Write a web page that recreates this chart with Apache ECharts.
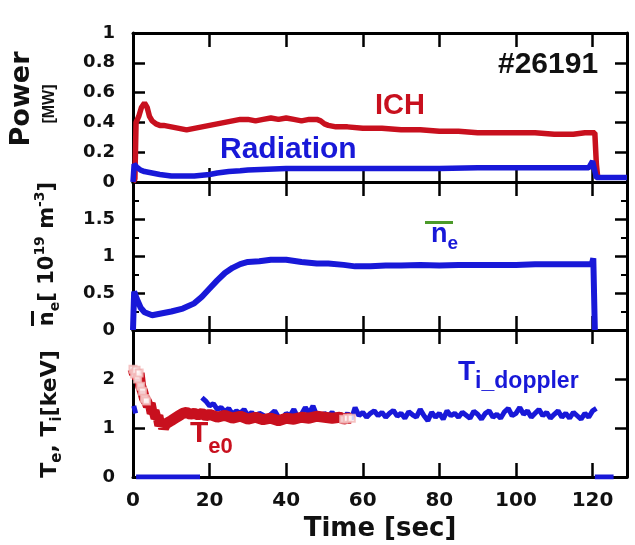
<!DOCTYPE html>
<html><head><meta charset="utf-8">
<script src="https://cdn.jsdelivr.net/npm/echarts@6/dist/echarts.min.js"></script>
<style>html,body{margin:0;padding:0;background:#fff}#c{width:635px;height:545px}</style>
</head><body><div id="c"></div>
<script>
// ---------- data ----------
const xTicks = [0, 20, 40, 60, 80, 100, 120];

const ichTime  = [0, 0.5, 0.8, 1.5, 2.2, 3.0, 3.7, 4.3, 5, 6, 7, 8, 10, 12, 14, 16, 18, 20, 22, 24, 26, 28, 30, 32, 34, 36, 38, 40, 42, 44, 46, 48, 49, 50, 51, 53, 56, 60, 65, 70, 75, 80, 85, 90, 95, 100, 105, 110, 115, 118, 120, 120.6, 121, 121.4];
const ichPower = [0, 0.02, 0.40, 0.44, 0.50, 0.53, 0.50, 0.44, 0.41, 0.39, 0.38, 0.38, 0.37, 0.36, 0.35, 0.36, 0.37, 0.38, 0.39, 0.40, 0.41, 0.42, 0.42, 0.41, 0.42, 0.43, 0.42, 0.43, 0.42, 0.41, 0.42, 0.42, 0.41, 0.39, 0.38, 0.37, 0.37, 0.36, 0.36, 0.35, 0.35, 0.34, 0.34, 0.33, 0.33, 0.33, 0.33, 0.32, 0.32, 0.33, 0.33, 0.33, 0.12, 0.02];

const radTime  = [0, 0.3, 0.6, 1, 2, 3, 5, 7, 10, 13, 16, 18, 20, 22, 25, 28, 30, 35, 40, 45, 50, 60, 70, 80, 90, 100, 110, 119, 120, 120.4, 121, 121.6, 125, 129];
const radPower = [0, 0.12, 0.11, 0.10, 0.08, 0.07, 0.06, 0.05, 0.04, 0.04, 0.04, 0.045, 0.05, 0.06, 0.07, 0.075, 0.08, 0.085, 0.09, 0.09, 0.09, 0.09, 0.09, 0.09, 0.095, 0.095, 0.095, 0.095, 0.14, 0.14, 0.03, 0.03, 0.03, 0.03];

const neTime  = [0, 0.3, 1, 2, 3, 5, 7, 10, 13, 16, 18, 20, 22, 24, 26, 28, 30, 33, 36, 40, 44, 48, 51, 55, 58, 62, 66, 70, 75, 80, 85, 90, 95, 100, 105, 110, 115, 119.8, 120.2, 120.6];
const neValue = [0, 0.52, 0.42, 0.30, 0.24, 0.20, 0.22, 0.25, 0.29, 0.36, 0.45, 0.56, 0.67, 0.77, 0.84, 0.89, 0.92, 0.93, 0.95, 0.95, 0.92, 0.90, 0.90, 0.88, 0.86, 0.86, 0.87, 0.87, 0.88, 0.87, 0.88, 0.88, 0.88, 0.88, 0.89, 0.89, 0.89, 0.89, 0.97, 0];

const te0Time  = [0, 0.4, 0.8, 1.2, 1.6, 2, 2.5, 3, 3.5, 4, 4.5, 5, 5.5, 6, 6.5, 7, 7.5, 8, 8.5, 9, 10, 11, 12, 13, 14, 15, 16, 17, 18, 19, 20, 22, 24, 26, 28, 30, 32, 34, 36, 38, 40, 42, 44, 46, 48, 50, 52, 54, 55, 56, 57];
const te0Value = [2.2, 2.1, 2.18, 2.0, 2.12, 1.85, 1.75, 1.6, 1.55, 1.45, 1.5, 1.3, 1.35, 1.2, 1.25, 1.05, 1.12, 1.0, 1.08, 1.1, 1.15, 1.2, 1.25, 1.3, 1.32, 1.28, 1.3, 1.27, 1.3, 1.25, 1.28, 1.22, 1.26, 1.2, 1.24, 1.18, 1.22, 1.17, 1.2, 1.15, 1.2, 1.18, 1.22, 1.2, 1.24, 1.22, 1.2, 1.22, 1.18, 1.2, 1.2];

const tiTime  = [18,19,20,21,22,23,24,25,26,27,28,29,30,31,32,33,34,35,36,37,38,39,40,41,42,43,44,45,46,47,48,49,50,51,52,53,54,55,56,57,58,59,60,61,62,63,64,65,66,67,68,69,70,71,72,73,74,75,76,77,78,79,80,81,82,83,84,85,86,87,88,89,90,91,92,93,94,95,96,97,98,99,100,101,102,103,104,105,106,107,108,109,110,111,112,113,114,115,116,117,118,119,120,121];
const tiValue = [1.62,1.55,1.45,1.5,1.38,1.42,1.33,1.4,1.28,1.35,1.3,1.38,1.25,1.32,1.22,1.3,1.26,1.2,1.28,1.35,1.22,1.18,1.3,1.25,1.38,1.22,1.28,1.42,1.3,1.45,1.25,1.2,1.3,1.25,1.32,1.22,1.28,1.2,1.3,1.18,1.42,1.25,1.32,1.22,1.3,1.35,1.25,1.32,1.22,1.3,1.36,1.24,1.3,1.2,1.33,1.27,1.22,1.38,1.25,1.15,1.32,1.22,1.3,1.18,1.35,1.25,1.3,1.22,1.32,1.26,1.2,1.34,1.28,1.18,1.3,1.35,1.22,1.28,1.2,1.33,1.4,1.25,1.3,1.42,1.28,1.35,1.22,1.3,1.38,1.25,1.32,1.2,1.28,1.35,1.22,1.3,1.2,1.32,1.25,1.18,1.3,1.22,1.35,1.4];
const tiEarlyTime  = [0.2, 0.7];
const tiEarlyValue = [1.45, 1.3];
const tiZeroTime  = [0.8, 17.5, null, 120.6, 125.5];
const tiZeroValue = [0, 0, null, 0, 0];

// ---------- styling ----------
const RED = '#c8101e', BLUE = '#1818d8', INK = '#111';
const L = 133, R = 8;
const panels = [{top: 33, height: 149}, {top: 182, height: 148}, {top: 330, height: 147}];
const yRanges = [
  {min: 0, max: 1, interval: 0.2, minor: false, showMax: true},
  {min: 0, max: 2, interval: 0.5, minor: true, showMax: false},
  {min: 0, max: 3, interval: 1, minor: false, showMax: false}
];
const tickFont = {fontFamily: 'DejaVu Sans', fontWeight: 'bold', color: INK};

const pairs = (xs, ys) => xs.map((x, i) => (x === null ? [null, null] : [x, ys[i]]));

const grid = [], xAxis = [], yAxis = [];
panels.forEach((p, i) => {
  grid.push({left: L, right: R, top: p.top, height: p.height, show: false});
  ['bottom', 'top'].forEach(pos => {
    const labels = (i === 2 && pos === 'bottom');
    xAxis.push({
      gridIndex: i, type: 'value', position: pos, min: 0, max: 129, interval: 20,
      axisLine: {show: true, onZero: false, lineStyle: {color: '#000', width: 3}},
      axisTick: {show: true, inside: true, length: 14, lineStyle: {color: '#000', width: 2.5}},
      axisLabel: {show: labels, showMaxLabel: false, fontSize: 20, margin: 14, ...tickFont},
      splitLine: {show: false},
      name: labels ? 'Time [sec]' : '', nameLocation: 'middle', nameGap: 39,
      nameTextStyle: {fontSize: 26, ...tickFont}
    });
  });
  const yr = yRanges[i];
  ['left', 'right'].forEach(pos => {
    yAxis.push({
      gridIndex: i, type: 'value', position: pos, min: yr.min, max: yr.max, interval: yr.interval,
      axisLine: {show: true, onZero: false, lineStyle: {color: '#000', width: 3}},
      axisTick: {show: true, inside: true, length: 12, lineStyle: {color: '#000', width: 2.5}},
      minorTick: {show: yr.minor, splitNumber: 2, length: 6, lineStyle: {color: '#000', width: 2}},
      axisLabel: {show: pos === 'left', showMaxLabel: yr.showMax, fontSize: 18, margin: 18, ...tickFont},
      splitLine: {show: false}
    });
  });
});

const line = (name, xi, yi, data, color, width, z) => ({
  name, type: 'line', xAxisIndex: xi, yAxisIndex: yi, data, showSymbol: false, symbol: 'none',
  lineStyle: {color, width}, itemStyle: {color}, z: z || 2, connectNulls: false, animation: false
});

const te0Pairs = pairs(te0Time, te0Value);
const series = [
  line('ICH', 0, 0, pairs(ichTime, ichPower), RED, 5.5, 2),
  line('Radiation', 0, 0, pairs(radTime, radPower), BLUE, 5.5, 3),
  line('ne', 2, 2, pairs(neTime, neValue), BLUE, 6, 2),
  line('Ti_doppler', 4, 4, pairs(tiTime, tiValue), BLUE, 5, 2),
  line('Ti_early', 4, 4, pairs(tiEarlyTime, tiEarlyValue), BLUE, 5, 2),
  line('Ti_zero', 4, 4, pairs(tiZeroTime, tiZeroValue), BLUE, 5, 2),
  line('Te0', 4, 4, te0Pairs, RED, 11, 3),
  {name: 'Te0 pts', type: 'scatter', xAxisIndex: 4, yAxisIndex: 4,
   data: te0Pairs.filter(p => p[0] < 4 || p[0] > 54),
   symbol: 'emptyRect', symbolSize: 7, itemStyle: {color: '#f3b4b4', borderColor: RED, borderWidth: 2.5}, z: 4, animation: false}
];

const F = 'DejaVu Sans', A = 'Liberation Sans';
const graphic = [
  // y-axis titles
  {type: 'text', x: 22, y: 99, rotation: Math.PI / 2,
   style: {text: 'Power', font: `bold 27px "${F}"`, fill: INK, align: 'center', verticalAlign: 'middle'}},
  {type: 'text', x: 50, y: 104, rotation: Math.PI / 2,
   style: {text: '[MW]', font: `bold 16px "${A}"`, fill: INK, align: 'center', verticalAlign: 'middle'}},
  {type: 'text', x: 48, y: 254, rotation: Math.PI / 2,
   style: {text: '{a|n}{s|e}{a|[ 10}{p|19}{a| m}{p|-3}{a|]}', align: 'center', verticalAlign: 'middle',
     rich: {
       a: {fontFamily: F, fontWeight: 'bold', fontSize: 21, lineHeight: 29, fill: INK},
       s: {fontFamily: F, fontWeight: 'bold', fontSize: 14, lineHeight: 14, verticalAlign: 'bottom', fill: INK},
       p: {fontFamily: F, fontWeight: 'bold', fontSize: 14, lineHeight: 14, verticalAlign: 'top', fill: INK}
     }}},
  {type: 'rect', shape: {x: 31, y: 311, width: 3, height: 15}, style: {fill: INK}},
  {type: 'text', x: 50, y: 414, rotation: Math.PI / 2,
   style: {text: '{a|T}{s|e}{a|, T}{s|i}{a|[keV]}', align: 'center', verticalAlign: 'middle',
     rich: {
       a: {fontFamily: F, fontWeight: 'bold', fontSize: 22, lineHeight: 30, fill: INK},
       s: {fontFamily: F, fontWeight: 'bold', fontSize: 15, lineHeight: 15, verticalAlign: 'bottom', fill: INK}
     }}},
  // annotations
  {type: 'text', x: 498, y: 65, style: {text: '#26191', font: `bold 30px "${A}"`, fill: INK, verticalAlign: 'middle'}},
  {type: 'text', x: 375, y: 106, style: {text: 'ICH', font: `bold 29px "${A}"`, fill: RED, verticalAlign: 'middle'}},
  {type: 'text', x: 220, y: 150, style: {text: 'Radiation', font: `bold 30px "${A}"`, fill: BLUE, verticalAlign: 'middle'}},
  {type: 'text', x: 431, y: 235,
   style: {text: '{a|n}{s|e}', verticalAlign: 'middle',
     rich: {
       a: {fontFamily: A, fontWeight: 'bold', fontSize: 27, lineHeight: 37, fill: BLUE},
       s: {fontFamily: A, fontWeight: 'bold', fontSize: 19, lineHeight: 19, verticalAlign: 'bottom', fill: BLUE}
     }}},
  {type: 'rect', shape: {x: 425, y: 221, width: 28, height: 3}, style: {fill: '#4c9a2a'}},
  {type: 'text', x: 458, y: 372,
   style: {text: '{a|T}{s|i_doppler}', verticalAlign: 'middle',
     rich: {
       a: {fontFamily: A, fontWeight: 'bold', fontSize: 28, lineHeight: 42, fill: BLUE},
       s: {fontFamily: A, fontWeight: 'bold', fontSize: 23, lineHeight: 23, verticalAlign: 'bottom', fill: BLUE}
     }}},
  {type: 'text', x: 190, y: 434,
   style: {text: '{a|T}{s|e0}', verticalAlign: 'middle',
     rich: {
       a: {fontFamily: A, fontWeight: 'bold', fontSize: 30, lineHeight: 48, fill: RED},
       s: {fontFamily: A, fontWeight: 'bold', fontSize: 22, lineHeight: 22, verticalAlign: 'bottom', fill: RED}
     }}}
];

const chart = echarts.init(document.getElementById('c'), null, {renderer: 'canvas'});
chart.setOption({animation: false, backgroundColor: '#fff', grid, xAxis, yAxis, series, graphic});
</script>
</body></html>
